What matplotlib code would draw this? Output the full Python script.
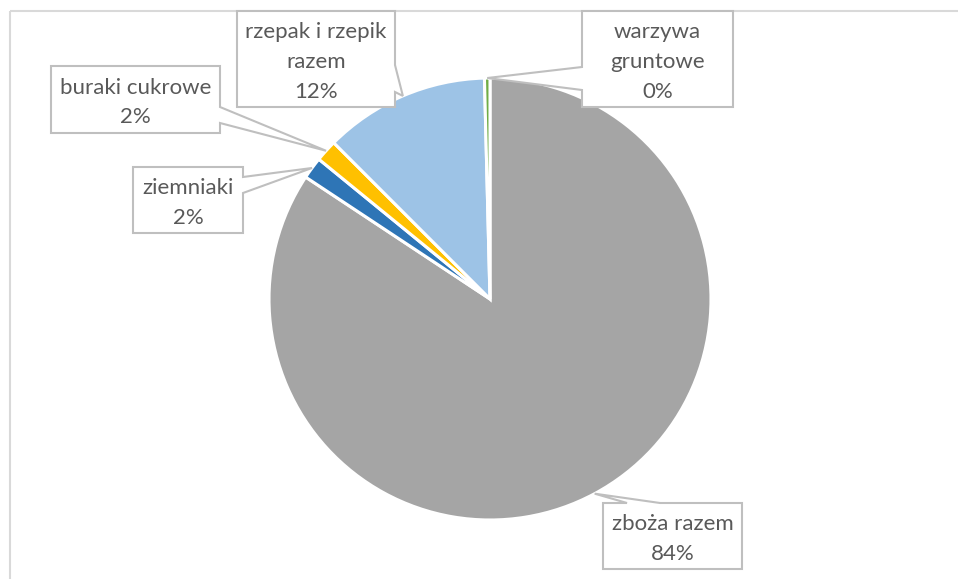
import numpy as np
import matplotlib
matplotlib.use("Agg")
import matplotlib.pyplot as plt
from matplotlib.patches import Polygon

plt.rcParams['font.family'] = ['Lato', 'DejaVu Sans']

# data
labels = ["zboża razem", "ziemniaki", "buraki cukrowe", "rzepak i rzepik\nrazem", "warzywa\ngruntowe"]
values = [84.3, 1.6, 1.6, 12.1, 0.4]
colors = ["#A5A5A5", "#2E75B6", "#FFC000", "#9DC3E6", "#70AD47"]

W, H = 958, 579
fig = plt.figure(figsize=(W / 100, H / 100), dpi=100)
ax = fig.add_axes([0, 0, 1, 1])

cx, cy, r = 490, H - 299, 221

wedges, _ = ax.pie(values, colors=colors, startangle=90, counterclock=False,
                   center=(cx, cy), radius=r, frame=True,
                   wedgeprops=dict(edgecolor="white", linewidth=2.2))
ax.set_xlim(0, W)
ax.set_ylim(0, H)
ax.set_aspect("equal")
ax.axis("off")

# chart frame (top and left visible)
ax.plot([10, 10], [0, H - 11], color="#D9D9D9", lw=1.5, solid_capstyle="butt")
ax.plot([10, W], [H - 11, H - 11], color="#D9D9D9", lw=1.5, solid_capstyle="butt")

# label boxes in pixel coords (top-down): x0, y0, x1, y1, side, base a, base b
boxes = [
    (603, 503, 742, 569, "top", 627, 660),
    (133, 167, 243, 233, "right", 177, 193),
    (51, 66, 220, 133, "right", 107, 123),
    (237, 11, 395, 107, "right", 65, 92),
    (582, 11, 733, 107, "left", 67, 90),
]


def fy(y):
    return H - y


for w, lab, v, (x0, y0, x1, y1, side, a, b) in zip(wedges, labels, values, boxes):
    mid = np.deg2rad((w.theta1 + w.theta2) / 2)
    tip = (cx + r * np.cos(mid), cy + r * np.sin(mid))
    TL, TR, BR, BL = (x0, fy(y0)), (x1, fy(y0)), (x1, fy(y1)), (x0, fy(y1))
    if side == "right":
        verts = [TL, TR, (x1, fy(a)), tip, (x1, fy(b)), BR, BL]
    elif side == "left":
        verts = [TL, TR, BR, BL, (x0, fy(b)), tip, (x0, fy(a))]
    else:
        verts = [TL, (a, fy(y0)), tip, (b, fy(y0)), TR, BR, BL]
    ax.add_patch(Polygon(verts, closed=True, facecolor="white",
                         edgecolor="#BFBFBF", lw=1.5, zorder=5))
    txt = "%s\n%d%%" % (lab, round(v))
    ax.text((x0 + x1) / 2, fy((y0 + y1) / 2) - 3, txt, ha="center", va="center",
            fontsize=16, color="#595959", linespacing=1.6, zorder=6)

fig.savefig("out.png", dpi=100, facecolor="white")
